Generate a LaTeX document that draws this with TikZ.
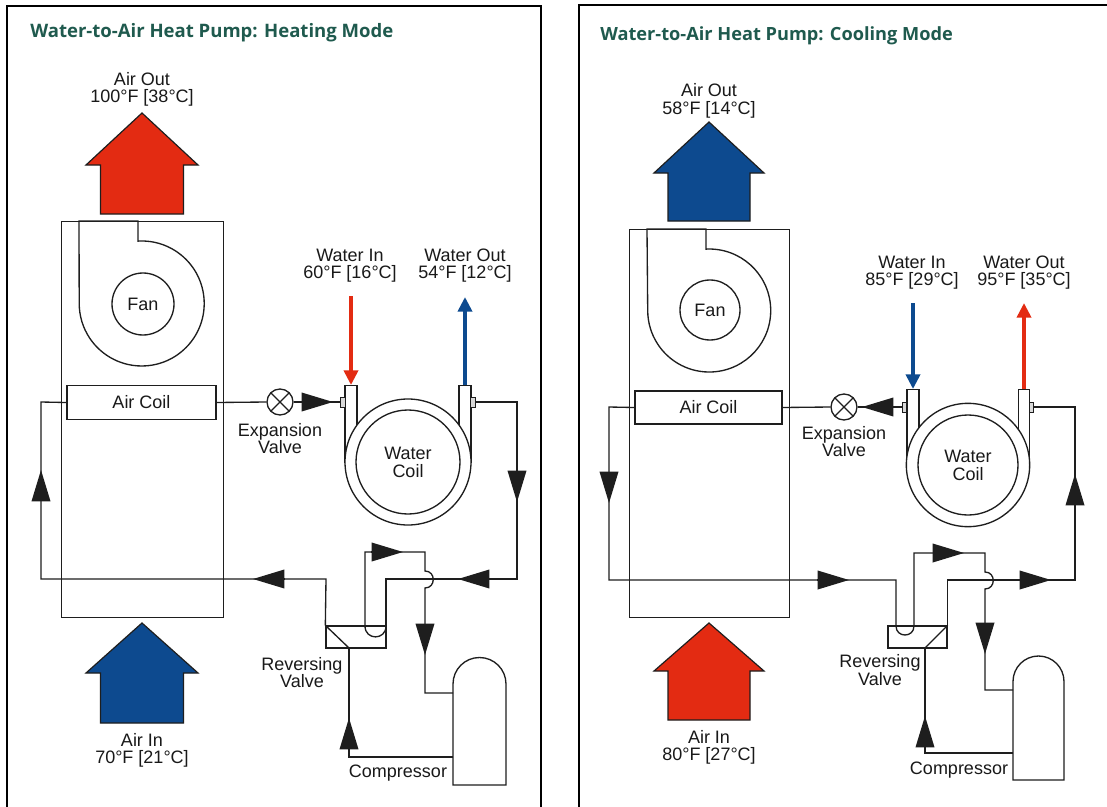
\documentclass[tikz,border=0pt]{standalone}
\usepackage{fontspec}
\setmainfont{Liberation Sans}
\newfontfamily\headfont{Open Sans}
\usetikzlibrary{arrows.meta}
\definecolor{heatred}{HTML}{E32B12}
\definecolor{coolblue}{HTML}{0D4A8F}
\definecolor{headgreen}{HTML}{1F5A4E}
\definecolor{inkline}{HTML}{1E1E1E}
\tikzset{
  x=0.75pt,y=-0.75pt,
  lbl/.style={align=center,inner sep=0pt,font=\fontsize{13.5}{13.2}\selectfont,text=black!90},
  headline/.style={anchor=west,inner sep=0pt,font=\headfont\bfseries\fontsize{13.9}{16}\selectfont,text=headgreen},
  frameline/.style={line width=1.7pt,black},
  pipe/.style={line width=1pt,draw=inkline,line join=miter},
  thin box/.style={draw=inkline,line width=0.7pt,fill=none,inner sep=0pt},
  solid box/.style={draw=inkline,line width=1pt,fill=white,inner sep=0pt},
  flow/.style={draw=inkline,line width=1pt,-{Triangle[length=23.5pt,width=14pt]}},
  stubbox/.style={draw=inkline,line width=0.6pt,fill=white!85!black,inner sep=0pt,minimum width=3.4pt,minimum height=7.5pt},
  xvalve/.style={circle,draw=inkline,line width=1pt,fill=white,inner sep=0pt,minimum size=19.5pt,
    path picture={\draw[inkline,line width=0.9pt] (path picture bounding box.north west)--(path picture bounding box.south east)
      (path picture bounding box.north east)--(path picture bounding box.south west);}},
  ring/.style={circle,draw=inkline,line width=1pt,fill=white,inner sep=0pt},
  water/.style={line width=3pt,-{Triangle[length=11pt,width=10.5pt]}},
  house/.style={draw=inkline,line width=0.9pt,line join=miter},
}
\newcommand{\houseshape}[7]{% cx, tip y, shoulder y, bottom y, half wing, half stem, colour
  \path[house,fill=#7] (#1,#2) -- ({#1+#5},#3) -- ({#1+#6},#3) -- ({#1+#6},#4)
    -- ({#1-#6},#4) -- ({#1-#6},#3) -- ({#1-#5},#3) -- cycle;}
\begin{document}
\begin{tikzpicture}
\useasboundingbox (0,0) rectangle (1107,807);
\fill[white] (0,0) rectangle (1107,807);
% ---- frames
\draw[frameline] (7,807) -- (7,6) -- (541,6) -- (541,807);
\draw[frameline] (579,807) -- (579,5) -- (1107,5);
% ================= HEATING =================
\node[headline] (Ltitle) at (30,33) {Water-to-Air Heat Pump: Heating Mode};
\houseshape{142}{113}{165}{214}{56}{41.5}{heatred}
\houseshape{142}{623}{673}{723}{56}{41.5}{coolblue}
\node[lbl] (Lao) at (142,89.5) {Air Out\\100°F [38°C]};
\node[lbl] (Lai) at (142,750.5) {Air In\\70°F [21°C]};
\node[thin box,minimum width=121.5pt,minimum height=297pt] (Lcab) at (142,419) {};
% fan
\draw[pipe] (79,221) -- (138,221) -- (138,241.1) arc[start angle=-93.4,end angle=180,radius=62.5] -- cycle;
\node[ring,lbl,draw=inkline,minimum size=46.5pt] (Lfan) at (143,304) {Fan};
\node[solid box,minimum width=111.75pt,minimum height=25.5pt,lbl] (Lac) at (141.5,402.5) {Air Coil};
% water coil
\node[solid box,minimum width=9pt,minimum height=57.75pt,anchor=north] (Lti) at (351,385) {};
\node[solid box,minimum width=9pt,minimum height=57.75pt,anchor=north] (Lto) at (465,385) {};
\node[ring,minimum size=94.5pt] (Lwo) at (408,462) {};
\node[ring,minimum size=78pt] (Lwi) at (408,462) {};
\node[lbl] (Lwt) at (408,462.5) {Water\\Coil};
\node[stubbox] (Lsi) at (343,402) {};
\node[stubbox] (Lso) at (473,402) {};
\node[xvalve] (Lexp) at (280,402) {};
\node[lbl] (Lexpt) at (280,438.5) {Expansion\\Valve};
\node[lbl] (Lwit) at (350,265.5) {Water In\\60°F [16°C]};
\node[lbl] (Lwot) at (465,265.5) {Water Out\\54°F [12°C]};
\coordinate (Lrs) at (351,296);
\coordinate (Lbs) at (465,297);
\draw[water,heatred] (Lrs) -- (Lti.north);
\draw[water,coolblue] (Lto.north) -- (Lbs);
% reversing valve
\node[solid box,fill=none,minimum width=45pt,minimum height=16.5pt] (Lrev) at (356,637) {};
\coordinate (Lrevb) at (349,648);
\coordinate (Lrevi) at (365,626);
\coordinate (Lrevj) at (386,626);
\node[lbl] (Lrevt) at (302,672.5) {Reversing\\Valve};
% compressor
\coordinate (Lcmpt) at (453,684);
\coordinate (Lcmpb) at (453,785);
\draw[pipe] (Lcmpb) -- (Lcmpt) arc[start angle=180,end angle=360,radius=26.5] -- (506,785) -- cycle;
\node[lbl] (Lcmpl) at (398,773.5) {Compressor};
% pipes
\coordinate (La1) at (517,402);
\coordinate (La2) at (517,579);
\coordinate (La3) at (386,579);
\coordinate (La4) at (326,579);
\coordinate (La5) at (41,579);
\coordinate (La6) at (41,402);
\coordinate (La7) at (365,552);
\coordinate (La8) at (425,552);
\coordinate (La9) at (425,571);
\coordinate (La10) at (425,588);
\coordinate (La11) at (425,693);
\coordinate (La12) at (453,693);
\coordinate (La13) at (453,757);
\coordinate (La14) at (349,757);
\draw[pipe] (Lac.east) -- (Lexp.west);
\draw[pipe] (Lexp.east) -- (Lsi.west);
\draw[pipe] (Lso.east) -- (La1) -- (La2) -- (La3) -- (Lrevj);
\draw[pipe] (Lrev.north west) -- (La4) -- (La5) -- (La6) -- (Lac.west);
\draw[pipe] (Lrevi) -- (La7) -- (La8) -- (La9) .. controls (436,571) and (436,588) .. (La10) -- (La11) -- (La12);
\draw[pipe] (La13) -- (La14) -- (Lrevb);
\draw[pipe] (Lrev.north west) -- (Lrevb);
\draw[pipe] (Lrevi) .. controls (365,640.5) and (386,640.5) .. (Lrevj);
% flow heads
\coordinate (Lf1) at (300,402); \coordinate (Lf1t) at (333,402);
\draw[flow] (Lf1) -- (Lf1t);
\coordinate (Lf2) at (517,471); \coordinate (Lf2t) at (517,502);
\draw[flow] (Lf2) -- (Lf2t);
\coordinate (Lf3) at (491,579); \coordinate (Lf3t) at (458,579);
\draw[flow] (Lf3) -- (Lf3t);
\coordinate (Lf4) at (285,579); \coordinate (Lf4t) at (253,579);
\draw[flow] (Lf4) -- (Lf4t);
\coordinate (Lf5) at (41,501); \coordinate (Lf5t) at (41,470);
\draw[flow] (Lf5) -- (Lf5t);
\coordinate (Lf6) at (371,552); \coordinate (Lf6t) at (403,552);
\draw[flow] (Lf6) -- (Lf6t);
\coordinate (Lf7) at (425,624); \coordinate (Lf7t) at (425,655);
\draw[flow] (Lf7) -- (Lf7t);
\coordinate (Lf8) at (349,749); \coordinate (Lf8t) at (349,718);
\draw[flow] (Lf8) -- (Lf8t);
% ================= COOLING =================
\node[headline,font=\headfont\bfseries\fontsize{13.65}{16}\selectfont] (Rtitle) at (600,36) {Water-to-Air Heat Pump: Cooling Mode};
\houseshape{709}{122}{173}{221}{55}{41}{coolblue}
\houseshape{709}{623}{671}{720}{55}{41}{heatred}
\node[lbl] (Rao) at (709,101) {Air Out\\58°F [14°C]};
\node[lbl] (Rai) at (709,747.5) {Air In\\80°F [27°C]};
\node[thin box,minimum width=120pt,minimum height=291pt] (Rcab) at (709,423) {};
\draw[pipe] (647,229) -- (706,229) -- (706,249.1) arc[start angle=-93,end angle=180,radius=61.5] -- cycle;
\node[ring,lbl,draw=inkline,minimum size=45pt] (Rfan) at (710,310) {Fan};
\node[solid box,minimum width=110.25pt,minimum height=24.75pt,lbl] (Rac) at (708.5,407.5) {Air Coil};
\node[solid box,minimum width=9pt,minimum height=57pt,anchor=north] (Rti) at (913,389) {};
\node[solid box,minimum width=8pt,minimum height=57pt,anchor=north] (Rto) at (1024,389) {};
\node[ring,minimum size=92.5pt] (Rwo) at (968,465) {};
\node[ring,minimum size=75pt] (Rwi) at (968,465) {};
\node[lbl] (Rwt) at (968,465.5) {Water\\Coil};
\node[stubbox] (Rsi) at (904.5,407) {};
\node[stubbox] (Rso) at (1031.5,407) {};
\node[xvalve] (Rexp) at (844,407) {};
\node[lbl] (Rexpt) at (844,441.5) {Expansion\\Valve};
\node[lbl] (Rwit) at (912,272.5) {Water In\\85°F [29°C]};
\node[lbl] (Rwot) at (1024,272.5) {Water Out\\95°F [35°C]};
\coordinate (Rbs) at (913,303);
\coordinate (Rrs) at (1024,303);
\draw[water,coolblue] (Rbs) -- (Rti.north);
\draw[water,heatred] (Rto.north) -- (Rrs);
\node[solid box,fill=none,minimum width=44.25pt,minimum height=16.5pt] (Rrev) at (917.5,637) {};
\coordinate (Rrevb) at (925,648);
\coordinate (Rrevi) at (896,626);
\coordinate (Rrevj) at (914,626);
\node[lbl] (Rrevt) at (880,670) {Reversing\\Valve};
\coordinate (Rcmpt) at (1013,681.5);
\coordinate (Rcmpb) at (1013,780);
\draw[pipe] (Rcmpb) -- (Rcmpt) arc[start angle=180,end angle=360,radius=25.5] -- (1064,780) -- cycle;
\node[lbl] (Rcmpl) at (959,770.5) {Compressor};
\coordinate (Ra1) at (1075,407);
\coordinate (Ra2) at (1075,580);
\coordinate (Ra4) at (896,580);
\coordinate (Ra5) at (609,580);
\coordinate (Ra6) at (609,407);
\coordinate (Ra7) at (914,553);
\coordinate (Ra8) at (985,553);
\coordinate (Ra9) at (985,572);
\coordinate (Ra10) at (985,589);
\coordinate (Ra11) at (985,690);
\coordinate (Ra12) at (1013,690);
\coordinate (Ra13) at (1013,753);
\coordinate (Ra14) at (925,753);
\draw[pipe] (Rac.east) -- (Rexp.west);
\draw[pipe] (Rexp.east) -- (Rsi.west);
\draw[pipe] (Rso.east) -- (Ra1) -- (Ra2) -| (Rrev.north east);
\draw[pipe] (Rrevi) -- (Ra4) -- (Ra5) -- (Ra6) -- (Rac.west);
\draw[pipe] (Rrevj) -- (Ra7) -- (Ra8) -- (Ra9) .. controls (996,572) and (996,589) .. (Ra10) -- (Ra11) -- (Ra12);
\draw[pipe] (Ra13) -- (Ra14) -- (Rrevb);
\draw[pipe] (Rrev.north east) -- (Rrevb);
\draw[pipe] (Rrevi) .. controls (896,638) and (914,638) .. (Rrevj);
\coordinate (Rf1) at (894,407); \coordinate (Rf1t) at (862,407);
\draw[flow] (Rf1) -- (Rf1t);
\coordinate (Rf2) at (1075,503); \coordinate (Rf2t) at (1075,474);
\draw[flow] (Rf2) -- (Rf2t);
\coordinate (Rf3) at (1019,580); \coordinate (Rf3t) at (1051,580);
\draw[flow] (Rf3) -- (Rf3t);
\coordinate (Rf4) at (817,580); \coordinate (Rf4t) at (849,580);
\draw[flow] (Rf4) -- (Rf4t);
\coordinate (Rf5) at (609,472); \coordinate (Rf5t) at (609,503);
\draw[flow] (Rf5) -- (Rf5t);
\coordinate (Rf6) at (933,553); \coordinate (Rf6t) at (964,553);
\draw[flow] (Rf6) -- (Rf6t);
\coordinate (Rf7) at (985,624); \coordinate (Rf7t) at (985,654);
\draw[flow] (Rf7) -- (Rf7t);
\coordinate (Rf8) at (925,746); \coordinate (Rf8t) at (925,716);
\draw[flow] (Rf8) -- (Rf8t);
\end{tikzpicture}
\end{document}
